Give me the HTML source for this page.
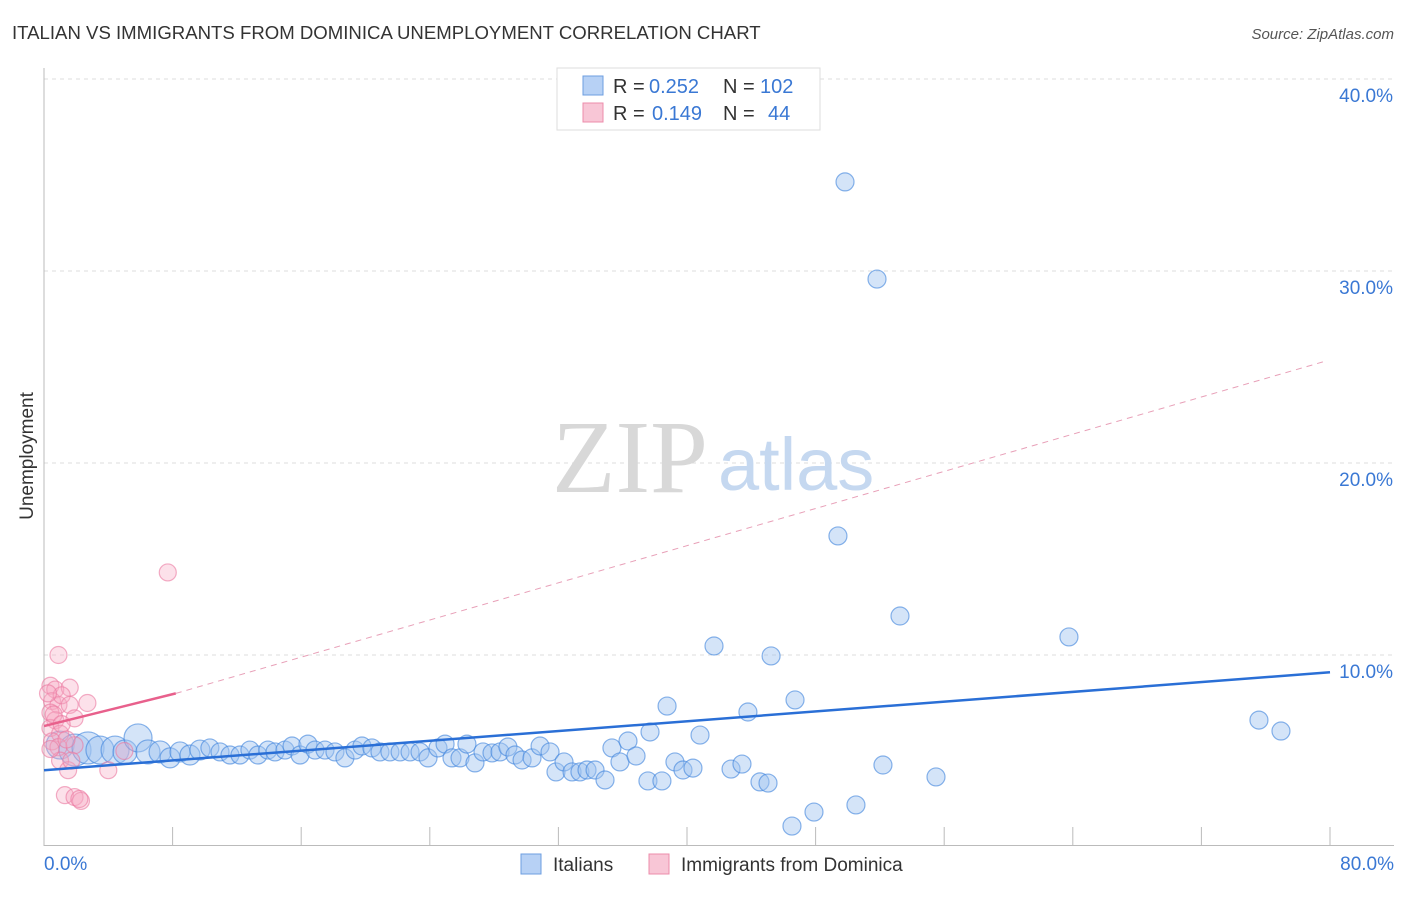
<!DOCTYPE html>
<html><head><meta charset="utf-8"><style>
body{margin:0;background:#fff;font-family:"Liberation Sans",sans-serif;}
</style></head><body>
<svg width="1406" height="892" viewBox="0 0 1406 892" font-family="Liberation Sans, sans-serif">
<text x="12" y="39" font-size="18.6" fill="#333">ITALIAN VS IMMIGRANTS FROM DOMINICA UNEMPLOYMENT CORRELATION CHART</text>
<text x="1394" y="39" font-size="15" fill="#555" font-style="italic" text-anchor="end">Source: ZipAtlas.com</text>
<g id="grid"></g>
<line x1="44" y1="68" x2="44" y2="846" stroke="#bbb"/>
<line x1="44" y1="845.5" x2="1394" y2="845.5" stroke="#bbb"/>
<text x="33" y="456" font-size="19" fill="#333" text-anchor="middle" transform="rotate(-90 33 456)">Unemployment</text>
<text x="552" y="492" font-size="104" fill="#d8d8d8" style="font-family:'Liberation Serif',serif">ZIP</text>
<text x="718" y="490" font-size="74" fill="#c5d8f0">atlas</text>
<g id="marks"></g>
<g id="ticks"></g>
<text x="44" y="870" font-size="19" fill="#3a78d4">0.0%</text>
<text x="1394" y="870" font-size="19" fill="#3a78d4" text-anchor="end">80.0%</text>
<g>
<rect x="557" y="68" width="263" height="62" fill="#fff" stroke="#ddd"/>
<rect x="583" y="76" width="20" height="19" fill="#b7d1f5" stroke="#6c9ee0"/>
<text x="613" y="93" font-size="20" fill="#333">R =</text>
<text x="649" y="93" font-size="20" fill="#3a78d4">0.252</text>
<text x="723" y="93" font-size="20" fill="#333">N =</text>
<text x="760" y="93" font-size="20" fill="#3a78d4">102</text>
<rect x="583" y="103" width="20" height="19" fill="#f8c6d6" stroke="#ec8cab"/>
<text x="613" y="120" font-size="20" fill="#333">R =</text>
<text x="652" y="120" font-size="20" fill="#3a78d4">0.149</text>
<text x="723" y="120" font-size="20" fill="#333">N =</text>
<text x="768" y="120" font-size="20" fill="#3a78d4">44</text>
</g>
<g>
<rect x="521" y="854" width="20" height="20" fill="#b7d1f5" stroke="#6c9ee0"/>
<text x="553" y="871" font-size="19" fill="#333">Italians</text>
<rect x="649" y="854" width="20" height="20" fill="#f8c6d6" stroke="#ec8cab"/>
<text x="681" y="871" font-size="19" fill="#333">Immigrants from Dominica</text>
</g>
</svg>
<script>
const yTicks=[10,20,30,40];
const yTickLabels=["10.0%","20.0%","30.0%","40.0%"];
const xTicks=[0,8,16,24,32,40,48,56,64,72,80];
const blueX=[1.0,1.93,2.74,3.48,4.42,5.04,5.85,6.47,7.22,7.84,8.46,9.08,9.70,10.32,10.95,11.57,12.19,12.81,13.31,13.93,14.37,14.99,15.43,15.93,16.42,16.86,17.48,18.10,18.72,19.35,19.78,20.40,20.90,21.52,22.15,22.77,23.39,23.89,24.51,24.95,25.38,25.88,26.31,26.81,27.31,27.87,28.37,28.86,29.30,29.74,30.36,30.86,31.48,31.85,32.35,32.85,33.34,33.78,34.28,34.90,35.33,35.83,36.33,36.83,37.57,37.70,38.44,38.76,39.25,39.75,40.37,40.81,41.68,42.74,43.42,43.79,44.54,45.04,45.23,46.72,46.53,47.90,49.39,49.83,50.51,51.82,52.19,53.25,55.49,63.76,75.58,76.95];
const blueY=[5.31,5.05,5.16,5.05,5.05,4.95,5.68,4.95,4.95,4.64,4.95,4.79,5.05,5.16,4.95,4.79,4.79,5.05,4.79,5.05,4.95,5.05,5.26,4.79,5.36,5.05,5.05,4.95,4.64,5.05,5.26,5.16,4.95,4.95,4.95,4.95,4.95,4.64,5.16,5.36,4.64,4.64,5.36,4.38,4.95,4.90,4.95,5.21,4.79,4.53,4.64,5.26,4.95,3.91,4.43,3.91,3.91,4.01,4.01,3.49,5.16,4.43,5.52,4.74,3.44,5.99,3.44,7.34,4.43,4.01,4.11,5.83,10.47,4.06,4.32,7.03,3.39,3.33,9.95,7.66,1.09,1.82,16.20,34.64,2.19,29.58,4.27,12.03,3.65,10.94,6.61,6.04];
const blueR=[14,16,16,14,14,12,14,12,11,10,10,10,10];
const pinkX=[0.9,0.4,0.7,0.5,0.9,0.4,0.7,0.4,1.0,0.5,0.9,1.6,1.1,1.6,1.9,2.7,1.9,1.0,1.5,1.3,1.9,2.3,4.0,5.0,7.7,0.25,0.6,1.1,0.4,1.4,1.7,2.2];
const pinkY=[10.0,8.4,8.2,7.6,7.4,7.0,6.6,6.2,5.9,5.5,5.2,8.3,7.9,7.4,6.7,7.5,5.3,4.5,4.0,2.7,2.6,2.4,4.0,5.0,14.3,8.0,6.9,6.4,5.1,5.6,4.5,2.5];
const blueFit=[4.0,9.1];
const pinkFit=[6.3,8.0,25.3];
const NS="http://www.w3.org/2000/svg";
const X=v=>44+v*16.075, Y=v=>847-v*19.2;
const grid=document.getElementById('grid'),marks=document.getElementById('marks'),ticks=document.getElementById('ticks');
function mk(tag,at,parent){const e=document.createElementNS(NS,tag);for(const k in at)e.setAttribute(k,at[k]);parent.appendChild(e);return e;}
yTicks.forEach((t,i)=>{
 const l=mk('line',{x1:44,x2:1394,y1:Y(t),y2:Y(t),stroke:'#ddd','stroke-dasharray':'4,4'},grid);
 
 
 const tx=mk('text',{x:1393,y:Y(t)+23,'font-size':19,fill:'#3a78d4','text-anchor':'end'},grid);
 tx.textContent=yTickLabels[i];
 
 
});
xTicks.forEach(t=>{
 const l=mk('line',{x1:X(t),x2:X(t),y1:827,y2:846,stroke:'#bbb'},ticks);
 
 
});
blueX.forEach((x,i)=>{
 const c=mk('circle',{cx:X(x),cy:Y(blueY[i]),r:blueR[i]||9,fill:'rgba(160,195,240,0.45)',stroke:'rgba(60,130,220,0.6)','stroke-width':1.2},marks);
 
 
});
pinkX.forEach((x,i)=>{
 const c=mk('circle',{cx:X(x),cy:Y(pinkY[i]),r:8.5,fill:'rgba(245,170,195,0.35)',stroke:'rgba(235,120,160,0.6)','stroke-width':1.2},marks);
 
 
});
const bl=mk('line',{x1:X(0),y1:Y(blueFit[0]),x2:X(80),y2:Y(blueFit[1]),stroke:'#2a6fd6','stroke-width':2.5},marks);


const pl=mk('line',{x1:X(0),y1:Y(pinkFit[0]),x2:X(8.2),y2:Y(pinkFit[1]),stroke:'#e8608c','stroke-width':2.5},marks);


const pd=mk('line',{x1:X(8.2),y1:Y(pinkFit[1]),x2:X(79.7),y2:Y(pinkFit[2]),stroke:'#e8a0b8','stroke-width':1,'stroke-dasharray':'6,5'},marks);


</script>
</body></html>
